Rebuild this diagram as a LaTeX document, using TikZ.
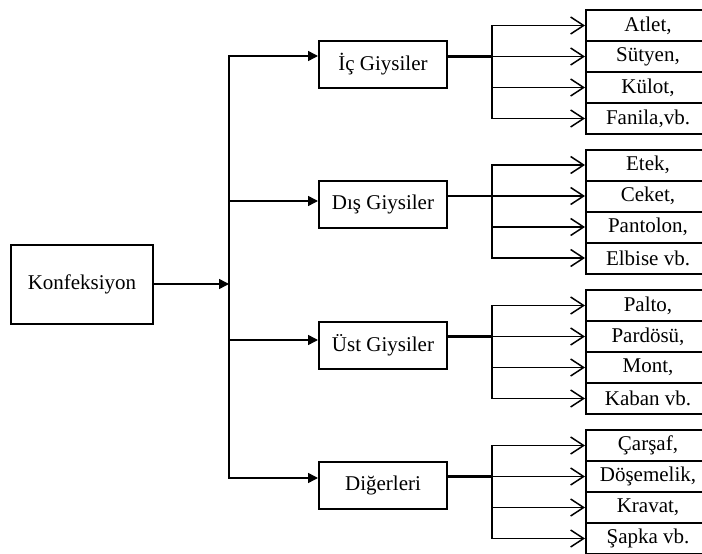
\documentclass[tikz,border=0pt]{standalone}
\usepackage{fontspec}
\setmainfont{Liberation Serif}
\usetikzlibrary{arrows.meta}
\begin{document}
\begin{tikzpicture}[x=1pt,y=-1pt,
  txt/.style={font=\fontsize{21}{24}\selectfont},
  box/.style={draw,line width=2pt,minimum width=128pt,minimum height=47pt,inner sep=0pt,txt},
  root/.style={box,minimum width=142pt,minimum height=79pt},
  leaf/.style={draw,line width=2pt,minimum width=124pt,minimum height=31pt,inner sep=0pt,txt},
  conn/.style={line width=1.6pt},
  boldconn/.style={line width=2.3pt},
  feed/.style={line width=1.5pt,-{Triangle[length=10pt,width=10pt]}},
  branch/.style={line width=1.4pt,-{Straight Barb[length=13pt,width=17pt,line width=1.5pt]}},
]
\useasboundingbox (0,0) rectangle (702,554);
\begin{scope}
\clip (0,0) rectangle (702,554);
% root
\node[root] (k) at (82,284) {Konfeksiyon};
\coordinate (j) at (229,284);
\draw[feed] (k.east) -- (j);

% level two
\foreach \g/\cy/\ay/\name in {1/64.5/56/İç Giysiler, 2/204.5/201/Dış Giysiler, 3/345/340/Üst Giysiler, 4/485.5/478/Diğerleri}{
  \node[box] (m\g) at (383,\cy) {\name};
  \coordinate (t\g) at (229,\ay);
  \draw[feed] (t\g) -- (m\g.west |- t\g);
}
\draw[conn,line cap=rect] (t1) -- (t4);

% leaves
\node[leaf] (s1-1) at (648,25.5) {Atlet,};
\node[leaf] (s1-2) at (648,56.5) {Sütyen,};
\node[leaf] (s1-3) at (648,87.5) {Külot,};
\node[leaf] (s1-4) at (648,118.5) {Fanila,vb.};

\node[leaf] (s2-1) at (648,165) {Etek,};
\node[leaf] (s2-2) at (648,196) {Ceket,};
\node[leaf] (s2-3) at (648,227) {Pantolon,};
\node[leaf] (s2-4) at (648,258) {Elbise vb.};

\node[leaf] (s3-1) at (648,305.5) {Palto,};
\node[leaf] (s3-2) at (648,336.5) {Pardösü,};
\node[leaf] (s3-3) at (648,367.5) {Mont,};
\node[leaf] (s3-4) at (648,398.5) {Kaban vb.};

\node[leaf] (s4-1) at (648,445.5) {Çarşaf,};
\node[leaf] (s4-2) at (648,476.5) {Döşemelik,};
\node[leaf] (s4-3) at (648,507.5) {Kravat,};
\node[leaf] (s4-4) at (648,538.5) {Şapka vb.};

% branches
\foreach \g in {1,2,3,4}{
  \draw[boldconn] (m\g.east |- s\g-2.west) -- ([xshift=-93pt]s\g-2.west);
  \draw[conn,line cap=rect] ([xshift=-93pt]s\g-1.west) -- ([xshift=-93pt]s\g-4.west);
  \foreach \i in {1,2,3,4}{
    \draw[branch] ([xshift=-93pt]s\g-\i.west) -- (s\g-\i.west);
  }
}
\end{scope}
\end{tikzpicture}
\end{document}
